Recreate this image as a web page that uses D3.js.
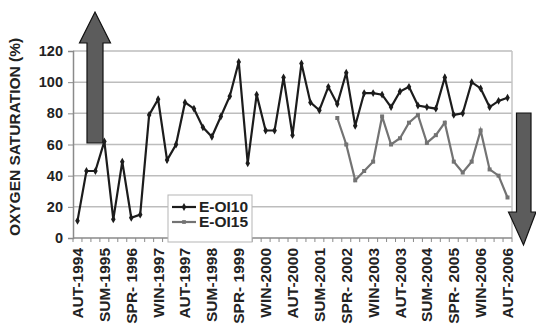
<!DOCTYPE html>
<html>
<head>
<meta charset="utf-8">
<script src="https://cdn.jsdelivr.net/npm/d3@7"></script>
<style>
  body { margin: 0; background: #fff; }
  svg { display: block; font-family: "Liberation Sans", Arial, sans-serif; font-weight: bold; }
</style>
</head>
<body>
<svg width="536" height="328"></svg>
<script>
var categories = [
  "AUT-1994",
  "WIN-1995", "SPR- 1995", "SUM-1995", "AUT-1995",
  "WIN-1996", "SPR- 1996", "SUM-1996", "AUT-1996",
  "WIN-1997", "SPR- 1997", "SUM-1997", "AUT-1997",
  "WIN-1998", "SPR- 1998", "SUM-1998", "AUT-1998",
  "WIN-1999", "SPR- 1999", "SUM-1999", "AUT-1999",
  "WIN-2000", "SPR- 2000", "SUM-2000", "AUT-2000",
  "WIN-2001", "SPR- 2001", "SUM-2001", "AUT-2001",
  "WIN-2002", "SPR- 2002", "SUM-2002", "AUT-2002",
  "WIN-2003", "SPR- 2003", "SUM-2003", "AUT-2003",
  "WIN-2004", "SPR- 2004", "SUM-2004", "AUT-2004",
  "WIN-2005", "SPR- 2005", "SUM-2005", "AUT-2005",
  "WIN-2006", "SPR- 2006", "SUM-2006", "AUT-2006"
];

// E-OI10, whole period
var eoi10 = [11, 43, 43, 62, 12, 49, 13, 15, 79, 89,
  50, 60, 87, 83, 71, 65, 78, 91, 113, 48,
  92, 69, 69, 103, 66, 112, 87, 82, 97, 86,
  106, 72, 93, 93, 92, 84, 94, 97, 85, 84,
  83, 103, 79, 80, 100, 96, 84, 88, 90];

// E-OI15 starts at WIN-2002
var eoi15Start = 29;
var eoi15 = [77, 60, 37, 43, 49, 78, 60, 64, 74, 79,
  61, 66, 74, 49, 42, 49, 69, 44, 40, 26];

var yTicks = [0, 20, 40, 60, 80, 100, 120];
var seriesNames = ["E-OI10", "E-OI15"];
var seriesColors = ["#1c1c1c", "#737373"];

var svg = d3.select("svg");
var m = {left: 73, right: 512, top: 51, bottom: 238};

var x = d3.scaleBand()
  .domain(d3.range(categories.length))
  .range([m.left, m.right])
  .padding(0);
var y = d3.scaleLinear().domain([0, 120]).range([m.bottom, m.top]);

function cx(i) { return x(i) + x.bandwidth() / 2; }

// grid lines
svg.append("g").selectAll("line")
  .data(yTicks.filter(function(d){ return d > 0; }))
  .enter().append("line")
  .attr("x1", m.left).attr("x2", m.right)
  .attr("y1", function(d){ return y(d); })
  .attr("y2", function(d){ return y(d); })
  .attr("stroke", "#bdbdbd")
  .attr("stroke-width", 1.5);

// right border of plot
svg.append("line")
  .attr("x1", m.right).attr("x2", m.right).attr("y1", m.top).attr("y2", m.bottom)
  .attr("stroke", "#c4c4c4").attr("stroke-width", 1.5);

// y axis
var yAxis = svg.append("g")
  .attr("transform", "translate(" + m.left + ",0)")
  .call(d3.axisLeft(y).tickValues(yTicks).tickSize(5).tickPadding(5));
yAxis.select(".domain").attr("stroke", "#8a8a8a").attr("stroke-width", 1.5);
yAxis.selectAll(".tick line").attr("stroke", "#8a8a8a");
yAxis.selectAll("text")
  .attr("font-size", 14.5).attr("font-weight", "bold")
  .attr("font-family", "Liberation Sans, Arial, sans-serif")
  .attr("fill", "#222");

// x axis line and tick marks between categories
svg.append("line")
  .attr("x1", m.left).attr("x2", m.right).attr("y1", m.bottom).attr("y2", m.bottom)
  .attr("stroke", "#8a8a8a").attr("stroke-width", 1.5);
svg.append("g").selectAll("line")
  .data(d3.range(categories.length + 1))
  .enter().append("line")
  .attr("x1", function(d){ return m.left + d * x.bandwidth(); })
  .attr("x2", function(d){ return m.left + d * x.bandwidth(); })
  .attr("y1", m.bottom).attr("y2", m.bottom + 4)
  .attr("stroke", "#8a8a8a");

// x labels, every third season
svg.append("g").selectAll("text")
  .data(categories.map(function(c, i){ return {c: c, i: i}; })
    .filter(function(d){ return d.i % 3 === 0; }))
  .enter().append("text")
  .attr("transform", function(d){
    return "translate(" + (cx(d.i) + 5.5) + "," + (m.bottom + 10) + ") scale(0.9,1) rotate(-90)";
  })
  .attr("text-anchor", "end")
  .attr("font-size", 15.5)
  .attr("fill", "#222")
  .text(function(d){ return d.c; });

// y title
svg.append("text")
  .attr("transform", "translate(20,137) scale(0.9,1) rotate(-90)")
  .attr("text-anchor", "middle")
  .attr("font-size", 15.5)
  .attr("fill", "#222")
  .text("OXYGEN SATURATION (%)");

// arrows
var upArrow = [[87, 143], [103, 143], [103, 43], [110.5, 43], [95, 12], [79.5, 43], [87, 43]];
var downArrow = [[516.5, 113], [531, 113], [531, 212], [536, 212], [523.5, 245], [508.5, 212], [516.5, 212]];
svg.append("g").selectAll("path")
  .data([upArrow, downArrow])
  .enter().append("path")
  .attr("d", function(d){ return "M" + d.join("L") + "Z"; })
  .attr("fill", "#5c5c5c")
  .attr("stroke", "#111")
  .attr("stroke-width", 1.2);

// series
var line = d3.line()
  .x(function(d){ return cx(d.i); })
  .y(function(d){ return y(d.v); });

var s10 = eoi10.map(function(v, i){ return {i: i, v: v}; });
var s15 = eoi15.map(function(v, i){ return {i: i + eoi15Start, v: v}; });

svg.append("path").datum(s15)
  .attr("d", line).attr("fill", "none")
  .attr("stroke", seriesColors[1]).attr("stroke-width", 2.2);
svg.append("g").selectAll("rect")
  .data(s15).enter().append("rect")
  .attr("x", function(d){ return cx(d.i) - 2; })
  .attr("y", function(d){ return y(d.v) - 2; })
  .attr("width", 4).attr("height", 4)
  .attr("fill", seriesColors[1]);

svg.append("path").datum(s10)
  .attr("d", line).attr("fill", "none")
  .attr("stroke", seriesColors[0]).attr("stroke-width", 2.2);
svg.append("g").selectAll("path")
  .data(s10).enter().append("path")
  .attr("d", d3.symbol().type(d3.symbolDiamond).size(18))
  .attr("transform", function(d){ return "translate(" + cx(d.i) + "," + y(d.v) + ")"; })
  .attr("fill", seriesColors[0]);

// legend
var legend = svg.append("g");
legend.append("rect")
  .attr("x", 168).attr("y", 195).attr("width", 84).attr("height", 47)
  .attr("fill", "#fff").attr("stroke", "#b5b5b5").attr("stroke-width", 1);
var li = legend.selectAll(".li").data(seriesNames).enter().append("g")
  .attr("transform", function(d, i){ return "translate(0," + (207 + i * 15) + ")"; });
li.append("line")
  .attr("x1", 172).attr("x2", 196)
  .attr("stroke", function(d, i){ return seriesColors[i]; })
  .attr("stroke-width", 2.2);
li.append("path")
  .attr("d", function(d, i){
    return d3.symbol().type(i === 0 ? d3.symbolDiamond : d3.symbolSquare).size(i === 0 ? 18 : 14)();
  })
  .attr("transform", "translate(184,0)")
  .attr("fill", function(d, i){ return seriesColors[i]; });
li.append("text")
  .attr("x", 199).attr("dy", "0.35em")
  .attr("font-size", 15.5)
  .attr("fill", "#222")
  .text(function(d){ return d; });
</script>
</body>
</html>
